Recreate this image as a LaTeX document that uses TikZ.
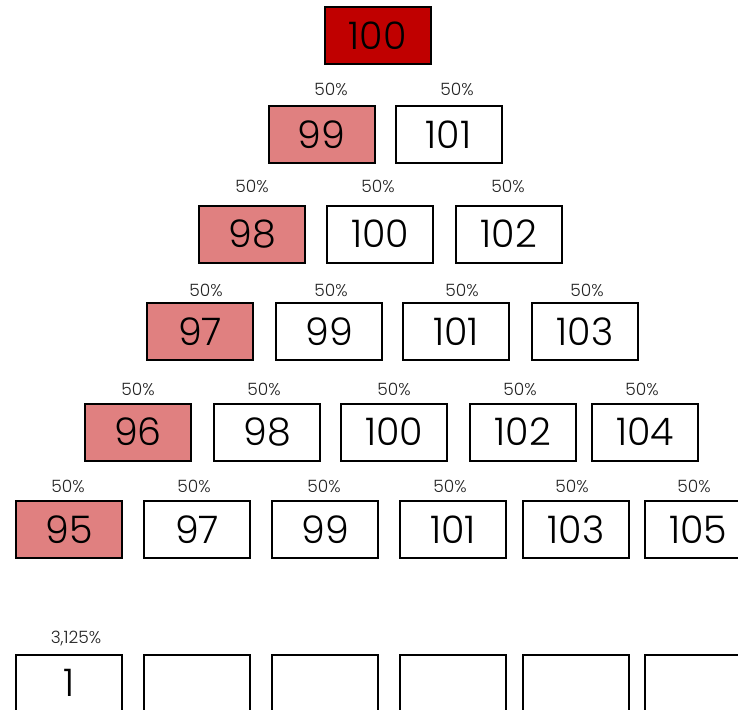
\documentclass[tikz,border=0pt]{standalone}
\usepackage{fontspec}
\setmainfont{Poppins}[UprightFont=* Light]
\definecolor{topred}{RGB}{192,0,0}
\definecolor{lowred}{RGB}{224,128,128}
\definecolor{labelgray}{RGB}{34,34,34}
\begin{document}
\begin{tikzpicture}[x=1pt, y=-1pt,
	box/.style={draw, line width=2pt, minimum width=106pt, minimum height=57pt, inner sep=0pt, font=\fontsize{38}{38}\selectfont},
	pct/.style={text=labelgray, inner sep=0pt, font=\fontsize{17}{17}\selectfont}]
		\useasboundingbox (0,0) rectangle (738,709);
		\clip (0,0) rectangle (738,709);
		
		%start
		\node[box, fill=topred] (b0) at (377.5, 35.5){100};
		
		%step 1
		\foreach \x/\lx/\v/\f [count=\i] in {321.5/331/99/lowred, 448.5/457/101/white}{
			\node[pct] (p1\i) at (\lx, 89){50\%};
			\node[box, fill=\f] (b1\i) at (\x, 134.5){\v};
		}
		
		%step 2
		\foreach \x/\lx/\v/\f [count=\i] in {252/252/98/lowred, 380/378/100/white, 509/508/102/white}{
			\node[pct] (p2\i) at (\lx, 186){50\%};
			\node[box, fill=\f] (b2\i) at (\x, 234){\v};
		}
		
		%step 3
		\foreach \x/\lx/\v/\f [count=\i] in {200/206/97/lowred, 329/331/99/white, 456/462/101/white, 585/587/103/white}{
			\node[pct] (p3\i) at (\lx, 290){50\%};
			\node[box, fill=\f] (b3\i) at (\x, 331.5){\v};
		}
		
		%step 4
		\foreach \x/\lx/\v/\f [count=\i] in {138/138/96/lowred, 267/264/98/white, 394/394/100/white, 523/520/102/white, 645/642/104/white}{
			\node[pct] (p4\i) at (\lx, 389){50\%};
			\node[box, fill=\f] (b4\i) at (\x, 432){\v};
		}
		
		%step 5
		\foreach \x/\lx/\v/\f [count=\i] in {69/68/95/lowred, 197/194/97/white, 325/324/99/white, 453/450/101/white, 576/572/103/white, 698/694/105/white}{
			\node[pct] (p5\i) at (\lx, 486){50\%};
			\node[box, fill=\f] (b5\i) at (\x, 529.5){\v};
		}
		
		%last row
		\node[pct] (p61) at (76, 639){3,125\%};
		\node[box] (b61) at (69, 683){1};
		\foreach \x [count=\i from 2] in {197, 325, 453, 576, 698}{
			\node[box] (b6\i) at (\x, 683){};
		}
\end{tikzpicture}
\end{document}
